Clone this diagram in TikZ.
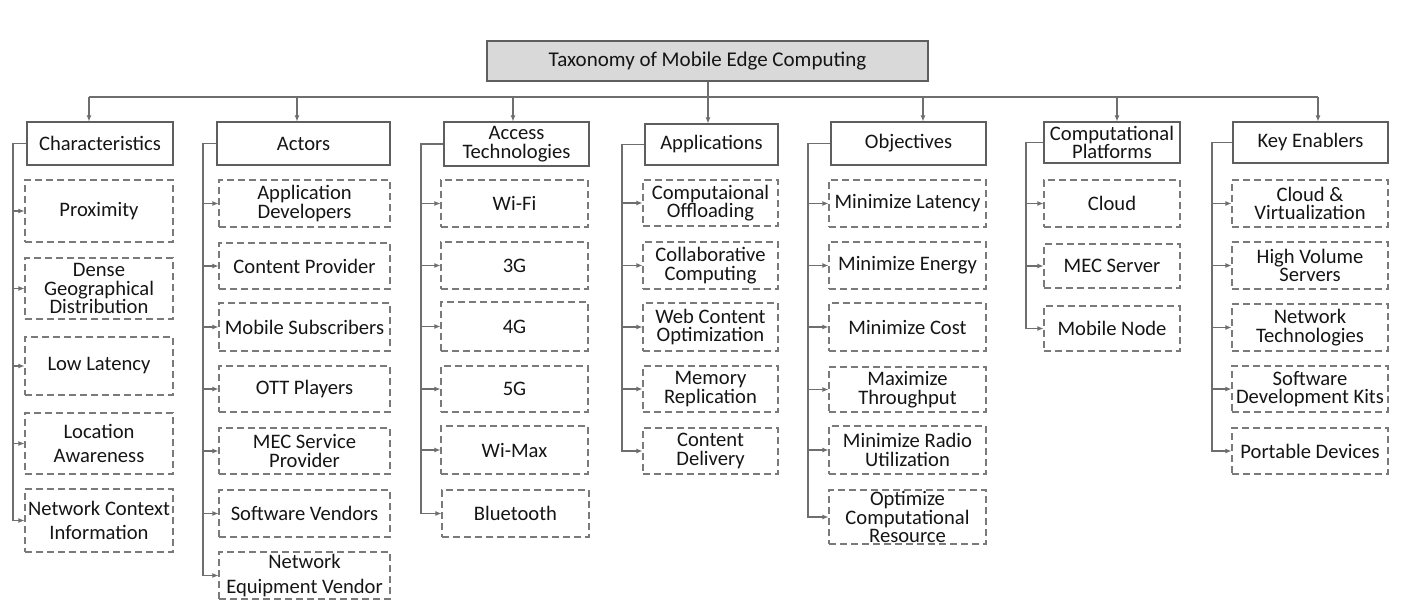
\documentclass[tikz,border=0pt]{standalone}
\usepackage{fontspec}
\setmainfont{Carlito}
\usetikzlibrary{arrows.meta}
\definecolor{txt}{HTML}{151515}
\definecolor{lnc}{HTML}{6E6E6E}
\definecolor{hbd}{HTML}{5E5E5E}
\definecolor{sbd}{HTML}{7A7A7A}
\definecolor{tfill}{HTML}{D9D9D9}
\tikzset{
  every node/.style={font=\fontsize{20.6}{18.6}\selectfont, text=txt},
  hdr/.style={draw=hbd, line width=1.1pt, inner sep=0pt, align=center},
  ttl/.style={hdr, fill=tfill, font=\fontsize{21}{18}\selectfont},
  sub/.style={draw=sbd, line width=1.1pt, dash pattern=on 7pt off 4pt, inner sep=0pt, align=center},
  wide/.style={font=\fontsize{20.6}{24.5}\selectfont},
  conn/.style={draw=lnc, line width=1.1pt},
  arr/.style={conn, -{Latex[length=6pt,width=5pt]}},
}
\newcommand{\bx}[7]{\node[#6, minimum width={(#4-#2)*1pt}, minimum height={(#5-#3)*1pt}] (#1) at ({(#2+#4)/2},{(#3+#5)/2}) {#7};}
\begin{document}
\begin{tikzpicture}[x=1pt,y=-1pt]
\useasboundingbox (0,0) rectangle (1413,612);
% title
\bx{title}{487}{41}{928}{81}{ttl}{Taxonomy of Mobile Edge Computing}
% headers
\bx{h1}{27}{122}{173}{165}{hdr}{Characteristics}
\bx{h2}{217}{122}{390}{165}{hdr}{Actors}
\bx{h3}{444}{122}{589}{166}{hdr}{Access\\Technologies}
\bx{h4}{645}{124}{778}{165}{hdr}{Applications}
\bx{h5}{831}{122}{986}{165}{hdr}{Objectives}
\bx{h6}{1044}{122}{1180}{163}{hdr}{Computational\\Platforms}
\bx{h7}{1233}{122}{1388}{163}{hdr}{Key Enablers}
% column 1
\bx{c11}{25}{180}{173}{242}{sub}{Proximity}
\bx{c12}{25}{258}{173}{319}{sub}{Dense\\Geographical\\Distribution}
\bx{c13}{25}{337}{173}{395}{sub}{Low Latency}
\bx{c14}{25}{413}{173}{474}{sub,wide}{Location\\Awareness}
\bx{c15}{25}{489}{173}{552}{sub,wide}{Network Context\\Information}
% column 2
\bx{c21}{219}{180}{390}{227}{sub}{Application\\Developers}
\bx{c22}{219}{243}{390}{289}{sub}{Content Provider}
\bx{c23}{219}{303}{390}{351}{sub}{Mobile Subscribers}
\bx{c24}{219}{366}{390}{412}{sub}{OTT Players}
\bx{c25}{219}{428}{390}{474}{sub}{MEC Service\\Provider}
\bx{c26}{219}{490}{390}{537}{sub}{Software Vendors}
\bx{c27}{219}{552}{390}{599}{sub,wide}{Network\\Equipment Vendor}
% column 3
\bx{c31}{441}{180}{588}{227}{sub}{Wi-Fi}
\bx{c32}{441}{242}{588}{289}{sub}{3G}
\bx{c33}{441}{302}{588}{351}{sub}{4G}
\bx{c34}{441}{366}{588}{412}{sub}{5G}
\bx{c35}{441}{426}{588}{474}{sub}{Wi-Max}
\bx{c36}{442}{490}{589}{537}{sub}{Bluetooth}
% column 4
\bx{c41}{643}{180}{778}{226}{sub}{Computaional\\Offloading}
\bx{c42}{643}{242}{778}{289}{sub}{Collaborative\\Computing}
\bx{c43}{643}{303}{778}{351}{sub}{Web Content\\Optimization}
\bx{c44}{643}{366}{778}{412}{sub}{Memory\\Replication}
\bx{c45}{643}{428}{778}{474}{sub}{Content\\Delivery}
% column 5
\bx{c51}{829}{180}{986}{227}{sub}{Minimize Latency}
\bx{c52}{829}{242}{986}{289}{sub}{Minimize Energy}
\bx{c53}{829}{303}{986}{351}{sub}{Minimize Cost}
\bx{c54}{829}{367}{986}{412}{sub}{Maximize\\Throughput}
\bx{c55}{829}{426}{986}{474}{sub}{Minimize Radio\\Utilization}
\bx{c56}{829}{490}{986}{544}{sub}{Optimize\\Computational\\Resource}
% column 6
\bx{c61}{1044}{180}{1180}{227}{sub}{Cloud}
\bx{c62}{1044}{244}{1180}{288}{sub}{MEC Server}
\bx{c63}{1044}{306}{1180}{351}{sub}{Mobile Node}
% column 7
\bx{c71}{1232}{180}{1388}{227}{sub}{Cloud \&\\Virtualization}
\bx{c72}{1232}{242}{1388}{289}{sub}{High Volume\\Servers}
\bx{c73}{1232}{304}{1388}{351}{sub}{Network\\Technologies}
\bx{c74}{1232}{366}{1388}{412}{sub}{Software\\Development Kits}
\bx{c75}{1232}{428}{1388}{474}{sub}{Portable Devices}
% bus coordinates
\coordinate (B1) at (89,97);
\coordinate (B2) at (297,97);
\coordinate (B3) at (513,97);
\coordinate (B4) at (708,97);
\coordinate (B5) at (923,97);
\coordinate (B6) at (1117,97);
\coordinate (B7) at (1318,97);
% trunk x coordinates
\coordinate (T1) at (13,0);
\coordinate (T2) at (203,0);
\coordinate (T3) at (421,0);
\coordinate (T4) at (622,0);
\coordinate (T5) at (808,0);
\coordinate (T6) at (1026,0);
\coordinate (T7) at (1212,0);
% bus
\draw[conn] (title.south -| B4) -- (B4);
\draw[conn] (B1) -- (B7);
\foreach \k in {1,...,7} \draw[arr] (B\k) -- (B\k |- h\k.north);
% trunks
\draw[arr] (h1.west) -- (h1.west -| T1) |- (c15.west);
\foreach \i in {1,...,4} \draw[arr] (c1\i.west -| T1) -- (c1\i.west);
\draw[arr] (h2.west) -- (h2.west -| T2) |- (c27.west);
\foreach \i in {1,...,6} \draw[arr] (c2\i.west -| T2) -- (c2\i.west);
\draw[arr] (h3.west) -- (h3.west -| T3) |- (c36.west);
\foreach \i in {1,...,5} \draw[arr] (c3\i.west -| T3) -- (c3\i.west);
\draw[arr] (h4.west) -- (h4.west -| T4) |- (c45.west);
\foreach \i in {1,...,4} \draw[arr] (c4\i.west -| T4) -- (c4\i.west);
\draw[arr] (h5.west) -- (h5.west -| T5) |- (c56.west);
\foreach \i in {1,...,5} \draw[arr] (c5\i.west -| T5) -- (c5\i.west);
\draw[arr] (h6.west) -- (h6.west -| T6) |- (c63.west);
\foreach \i in {1,...,2} \draw[arr] (c6\i.west -| T6) -- (c6\i.west);
\draw[arr] (h7.west) -- (h7.west -| T7) |- (c75.west);
\foreach \i in {1,...,4} \draw[arr] (c7\i.west -| T7) -- (c7\i.west);
\end{tikzpicture}
\end{document}
